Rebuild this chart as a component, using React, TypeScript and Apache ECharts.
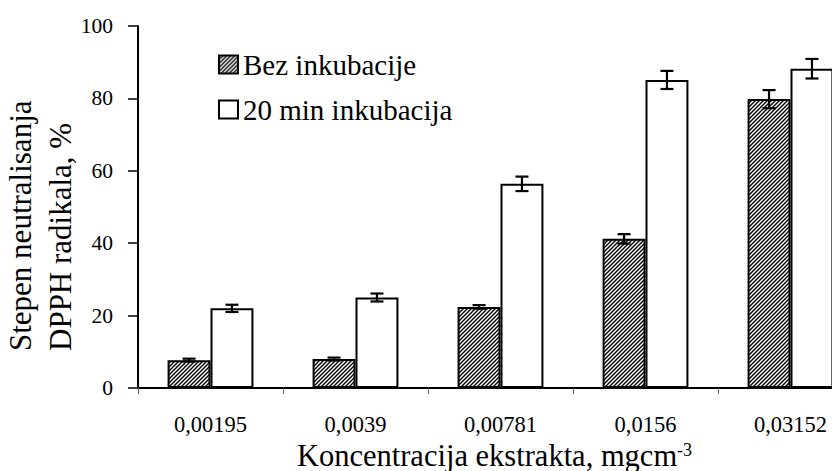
import React, { useEffect, useRef } from "react";
import * as echarts from "echarts";

const categories = ["0,00195", "0,0039", "0,00781", "0,0156", "0,03152"];
const bezValues = [7.7, 8.0, 22.4, 41.2, 79.8];
const bezErrors = [0.4, 0.4, 0.5, 1.3, 2.5];
const incValues = [22.0, 25.0, 56.4, 85.1, 88.2];
const incErrors = [1.0, 1.1, 2.0, 2.5, 2.7];
const yTicks = [0, 20, 40, 60, 80, 100];
const seriesNames = ["Bez inkubacije", "20 min inkubacija"];

const FONT = "Liberation Serif";
const BAR_FRAC = 0.296;

const hatchSvg =
  '<svg xmlns="http://www.w3.org/2000/svg" width="4" height="4">' +
  '<rect width="4" height="4" fill="#fff"/>' +
  '<path d="M-1,5 L5,-1 M-1,1 L1,-1 M3,5 L5,3" stroke="#000" stroke-width="1.4"/></svg>';
const hatchUrl = "data:image/svg+xml;charset=utf-8," + encodeURIComponent(hatchSvg);

function errorSeries(values: number[], errors: number[], side: number) {
  return {
    type: "custom",
    z: 10,
    silent: true,
    data: values.map((v, i) => [i, v, errors[i]]),
    encode: { x: 0, y: 1 },
    renderItem: (params: any, api: any) => {
      const idx = api.value(0);
      const v = api.value(1);
      const e = api.value(2);
      const band = api.size([1, 0])[0];
      const c = api.coord([idx, v]);
      const x = c[0] + side * band * BAR_FRAC * 0.5;
      const hi = api.coord([idx, v + e])[1];
      const lo = api.coord([idx, v - e])[1];
      const cap = 6.5;
      const st = { stroke: "#000", lineWidth: 2.2 };
      return {
        type: "group",
        children: [
          { type: "line", shape: { x1: x, y1: hi, x2: x, y2: lo }, style: st },
          { type: "line", shape: { x1: x - cap, y1: hi, x2: x + cap, y2: hi }, style: st },
          { type: "line", shape: { x1: x - cap, y1: lo, x2: x + cap, y2: lo }, style: st },
        ],
      };
    },
  };
}

export default function App() {
  const ref = useRef<HTMLDivElement>(null);
  useEffect(() => {
    if (!ref.current) return;
    const chart = echarts.init(ref.current, null, { renderer: "svg" });
    chart.setOption({
      animation: false,
      backgroundColor: "#fff",
      grid: {
        left: 138,
        top: 26,
        width: 725,
        height: 362,
        containLabel: false,
        outerBoundsMode: "none",
      },
      legend: {
        orient: "vertical",
        left: 218,
        top: 50,
        padding: 0,
        icon: "rect",
        itemWidth: 19,
        itemHeight: 18,
        itemGap: 16,
        textStyle: { fontFamily: FONT, fontSize: 29, color: "#000" },
        data: seriesNames,
      },
      xAxis: {
        type: "category",
        data: categories,
        name: "{a|Koncentracija ekstrakta, mgcm}{b|-3}",
        nameLocation: "middle",
        nameGap: 51,
        nameTextStyle: {
          fontFamily: FONT,
          padding: [0, 12, 0, 0],
          rich: {
            a: { fontFamily: FONT, fontSize: 30.5, color: "#000", lineHeight: 31 },
            b: { fontFamily: FONT, fontSize: 18, color: "#000", verticalAlign: "top", lineHeight: 31 },
          },
        },
        axisLine: { lineStyle: { color: "#000", width: 2 } },
        axisTick: { show: true, length: 6, lineStyle: { color: "#666", width: 1 }, interval: 0 },
        axisLabel: { fontFamily: FONT, fontSize: 22.5, color: "#000", margin: 25, interval: 0 },
        splitLine: { show: false },
      },
      yAxis: {
        type: "value",
        min: 0,
        max: 100,
        interval: 20,
        axisLine: { show: true, lineStyle: { color: "#000", width: 2 } },
        axisTick: { show: true, length: 10, lineStyle: { color: "#000", width: 1.5 } },
        axisLabel: {
          fontFamily: FONT,
          fontSize: 21.5,
          color: "#000",
          margin: 25,
          formatter: (v: number) => (yTicks.includes(v) ? String(v) : ""),
        },
        splitLine: { show: false },
      },
      graphic: [
        {
          type: "text",
          x: 0,
          y: 351,
          rotation: Math.PI / 2,
          style: {
            text: "Stepen neutralisanja\nDPPH radikala, %",
            fontFamily: FONT,
            fontSize: 31,
            fill: "#000",
            align: "left",
            verticalAlign: "top",
            lineHeight: 40,
          },
        },
      ],
      series: [
        {
          name: seriesNames[0],
          type: "bar",
          data: bezValues,
          barWidth: `${BAR_FRAC * 100}%`,
          barGap: "0%",
          itemStyle: {
            color: { image: hatchUrl, repeat: "repeat" },
            borderColor: "#000",
            borderWidth: 2,
          },
        },
        {
          name: seriesNames[1],
          type: "bar",
          data: incValues,
          barWidth: `${BAR_FRAC * 100}%`,
          barGap: "0%",
          itemStyle: { color: "#fff", borderColor: "#000", borderWidth: 2 },
        },
        errorSeries(bezValues, bezErrors, -1),
        errorSeries(incValues, incErrors, 1),
      ],
    });
    return () => chart.dispose();
  }, []);
  return (
    <div
      ref={ref}
      style={{ position: "fixed", left: 0, top: 0, width: 832, height: 471, overflow: "hidden" }}
    />
  );
}
